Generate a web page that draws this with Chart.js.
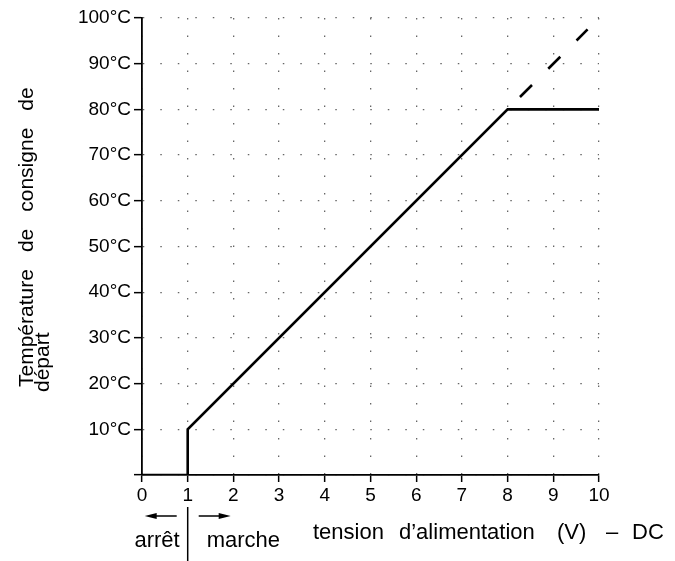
<!DOCTYPE html>
<html>
<head>
<meta charset="utf-8">
<script src="https://cdn.jsdelivr.net/npm/chart.js@4"></script>
<style>
  html, body { margin: 0; padding: 0; background: #fff; }
  canvas { display: block; }
</style>
</head>
<body>
<canvas id="grafica" width="675" height="561"></canvas>
<script>
// valeurs
const tension = [0, 1, 1, 8, 10];
const temperature = [0, 0, 10, 80, 80];
const tensionExt = [8, 9.75];
const temperatureExt = [80, 97.5];

const xTicks = [0, 1, 2, 3, 4, 5, 6, 7, 8, 9, 10];
const yTicks = [0, 10, 20, 30, 40, 50, 60, 70, 80, 90, 100];

const titreY = ['Température', 'de', 'consigne', 'de'];
const titreY2 = 'départ';
const titreX = ['tension', 'd’alimentation', '(V)', '–', 'DC'];

const police = 'Liberation Sans';

// écrit chaque mot à sa position de départ
function ecrireMots(ctx, mots, departs, y) {
    mots.forEach((m, i) => ctx.fillText(m, departs[i], y));
}

// mots avec un espace fixe entre eux
function ecrireEspaces(ctx, mots, x, y, espace) {
    let pos = x;
    mots.forEach(m => {
        ctx.fillText(m, pos, y);
        pos += ctx.measureText(m).width + espace;
    });
}

function fleche(ctx, x1, x2, y) {
    const dir = Math.sign(x2 - x1);
    ctx.beginPath();
    ctx.moveTo(x1, y);
    ctx.lineTo(x2 - dir * 9, y);
    ctx.stroke();
    ctx.beginPath();
    ctx.moveTo(x2, y);
    ctx.lineTo(x2 - dir * 12, y - 3);
    ctx.lineTo(x2 - dir * 12, y + 3);
    ctx.closePath();
    ctx.fill();
}

const textes = {
    id: 'textes',
    afterDraw(chart) {
        const ctx = chart.ctx;
        const xs = chart.scales.x;
        const x1 = xs.getPixelForValue(1);
        ctx.save();
        ctx.fillStyle = '#000';
        ctx.strokeStyle = '#000';
        ctx.textBaseline = 'alphabetic';
        ctx.textAlign = 'left';

        // titre de l'axe y, deux lignes tournées
        ctx.font = '21px "' + police + '"';
        ctx.save();
        ctx.translate(33, 387);
        ctx.rotate(-Math.PI / 2);
        ecrireEspaces(ctx, titreY, 0, 0, 17);
        ctx.restore();
        ctx.save();
        ctx.translate(49, 392);
        ctx.rotate(-Math.PI / 2);
        ctx.fillText(titreY2, 0, 0);
        ctx.restore();

        // titre de l'axe x
        ctx.font = '22px "' + police + '"';
        ecrireMots(ctx, titreX, [313, 399, 557, 606, 632], 539);

        // arrêt | marche
        ctx.lineWidth = 1.5;
        ctx.beginPath();
        ctx.moveTo(x1, 507);
        ctx.lineTo(x1, 561);
        ctx.stroke();
        fleche(ctx, x1 - 11, x1 - 43, 516);
        fleche(ctx, x1 + 11, x1 + 43, 516);
        ctx.textAlign = 'right';
        ctx.fillText('arrêt', x1 - 8, 547);
        ctx.textAlign = 'left';
        ctx.fillText('marche', x1 + 19, 547);
        ctx.restore();
    }
};

const ctx = document.getElementById('grafica').getContext('2d');

window.maGrafica = new Chart(ctx, {
    type: 'line',
    data: {
        datasets: [{
            data: tension.map((v, i) => ({ x: v, y: temperature[i] })),
            borderColor: '#000',
            borderWidth: 2.6,
            pointRadius: 0,
            tension: 0,
            fill: false
        }, {
            data: tensionExt.map((v, i) => ({ x: v, y: temperatureExt[i] })),
            borderColor: '#000',
            borderWidth: 2.6,
            borderDash: [17, 23],
            borderDashOffset: 22.5,
            pointRadius: 0,
            tension: 0,
            fill: false
        }]
    },
    options: {
        responsive: false,
        animation: false,
        devicePixelRatio: 1,
        layout: { padding: { top: 18, right: 76, left: 0, bottom: 0 } },
        plugins: {
            legend: { display: false },
            tooltip: { enabled: false }
        },
        scales: {
            x: {
                type: 'linear',
                min: 0,
                max: 10,
                afterBuildTicks: s => { s.ticks = xTicks.map(v => ({ value: v })); },
                afterFit: s => { s.height = 86; },
                ticks: {
                    color: '#000',
                    font: { family: police, size: 19 },
                    padding: 2,
                    autoSkip: false,
                    maxRotation: 0
                },
                grid: {
                    color: '#666',
                    lineWidth: 1.3,
                    tickLength: 7,
                    tickColor: '#000',
                    tickWidth: 1.5
                },
                border: { color: '#000', width: 1.8, dash: [1.5, 16], dashOffset: 0 }
            },
            y: {
                min: 0,
                max: 100,
                afterBuildTicks: s => { s.ticks = yTicks.map(v => ({ value: v })); },
                afterFit: s => { s.width = 142; },
                ticks: {
                    color: '#000',
                    font: { family: police, size: 19 },
                    padding: 3,
                    autoSkip: false,
                    callback: v => v === 0 ? '' : v + '°C'
                },
                grid: {
                    color: '#666',
                    lineWidth: 1.3,
                    tickLength: 8,
                    tickColor: '#000',
                    tickWidth: 1.5
                },
                border: { color: '#000', width: 1.8, dash: [1.5, 16], dashOffset: 0 }
            }
        }
    },
    plugins: [textes]
});
</script>
</body>
</html>
